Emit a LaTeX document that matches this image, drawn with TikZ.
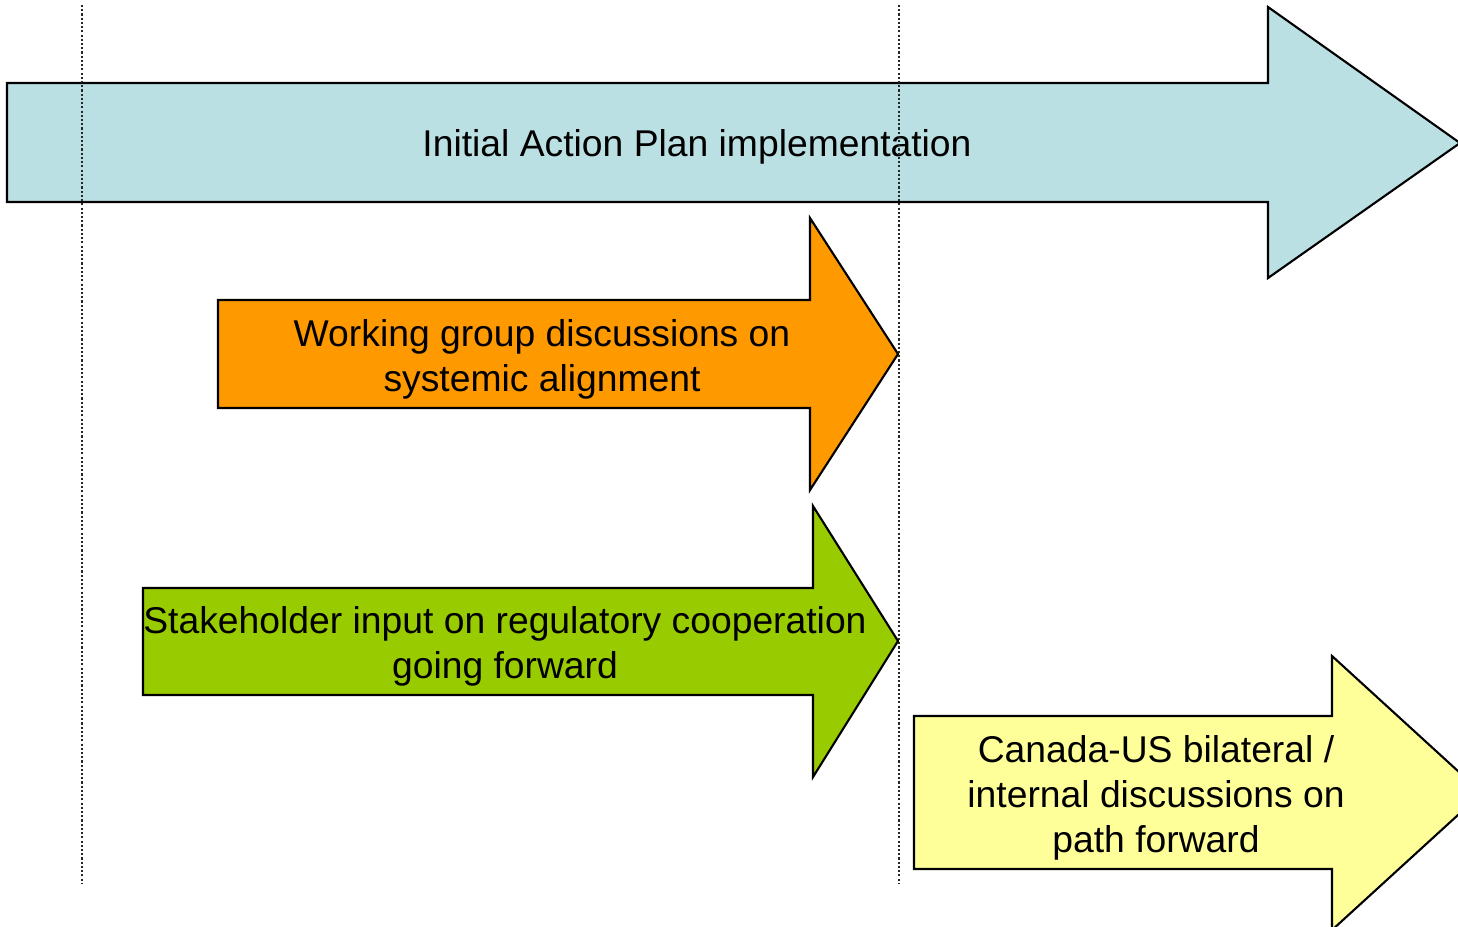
\documentclass[tikz,border=0pt]{standalone}
\usepackage{fontspec}
\setmainfont{Liberation Sans}
\definecolor{planblue}{HTML}{BBE0E3}
\definecolor{grouporange}{HTML}{FF9900}
\definecolor{inputgreen}{HTML}{99CC00}
\definecolor{pathyellow}{HTML}{FFFF99}
\tikzset{
  bigarrow/.style={draw=black, line width=0.6pt, line join=miter},
  label/.style={align=center, font=\fontsize{10.6}{12.8}\selectfont, inner sep=0pt},
}

\begin{document}
\begin{tikzpicture}[x=0.01cm, y=-0.01cm]
\useasboundingbox (0,0) rectangle (1458,926);
\clip (0,0) rectangle (1458,926);
\path   (7, 83)     coordinate (b1) {}
        (1268, 83)  coordinate (b2) {}
        (1268, 7)   coordinate (b3) {}
        (1460, 143) coordinate (b4) {}
        (1268, 278) coordinate (b5) {}
        (1268, 202) coordinate (b6) {}
        (7, 202)    coordinate (b7) {}
        (218, 300)  coordinate (o1) {}
        (810, 300)  coordinate (o2) {}
        (810, 218)  coordinate (o3) {}
        (898, 354)  coordinate (o4) {}
        (810, 490)  coordinate (o5) {}
        (810, 408)  coordinate (o6) {}
        (218, 408)  coordinate (o7) {}
        (143, 588)  coordinate (g1) {}
        (813, 588)  coordinate (g2) {}
        (813, 506)  coordinate (g3) {}
        (898, 641)  coordinate (g4) {}
        (813, 777)  coordinate (g5) {}
        (813, 695)  coordinate (g6) {}
        (143, 695)  coordinate (g7) {}
        (914, 716)  coordinate (y1) {}
        (1332, 716) coordinate (y2) {}
        (1332, 656) coordinate (y3) {}
        (1482, 793) coordinate (y4) {}
        (1332, 930) coordinate (y5) {}
        (1332, 869) coordinate (y6) {}
        (914, 869)  coordinate (y7) {};
\draw[bigarrow, fill=planblue] (b1) -- (b2) -- (b3) -- (b4) -- (b5) -- (b6) -- (b7) -- cycle;
\draw[bigarrow, fill=grouporange] (o1) -- (o2) -- (o3) -- (o4) -- (o5) -- (o6) -- (o7) -- cycle;
\draw[bigarrow, fill=inputgreen] (g1) -- (g2) -- (g3) -- (g4) -- (g5) -- (g6) -- (g7) -- cycle;
\draw[bigarrow, fill=pathyellow] (y1) -- (y2) -- (y3) -- (y4) -- (y5) -- (y6) -- (y7) -- cycle;

\node[label] (plan) at (697, 147) {Initial Action Plan implementation};
\node[label] (group) at (542, 359) {Working group discussions on\\systemic alignment};
\node[label] (input) at (505, 646) {Stakeholder input on regulatory cooperation\\going forward};
\node[label] (path) at (1156, 798) {Canada-US bilateral /\\internal discussions on\\path forward};

% time markers
\foreach \xm in {82, 899}
  \draw[black!85, line width=0.4pt, dash pattern=on 0.6pt off 0.6pt] (\xm, 5) coordinate (top\xm) -- (\xm, 884) coordinate (bot\xm);
\end{tikzpicture}
\end{document}
